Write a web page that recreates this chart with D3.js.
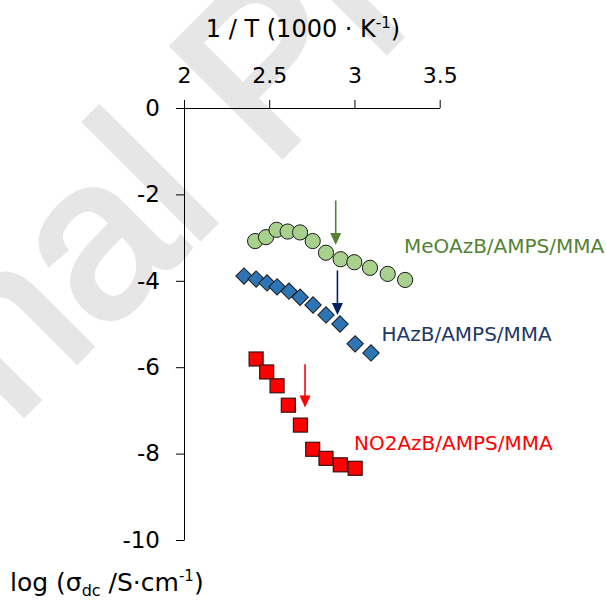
<!DOCTYPE html>
<html>
<head>
<meta charset="utf-8">
<script src="https://cdn.jsdelivr.net/npm/d3@7"></script>
<style>
  body { margin: 0; background: #fff; }
  svg { display: block; }
</style>
</head>
<body>
<script>
// Conductividad dc vs 1/T para los tres copolímeros azobenceno/AMPS/MMA
const meoX = [2.417, 2.481, 2.543, 2.608, 2.681, 2.755, 2.833, 2.919, 2.999, 3.091, 3.195, 3.297];
const meoY = [-3.08, -2.99, -2.82, -2.86, -2.88, -3.08, -3.35, -3.50, -3.57, -3.70, -3.84, -3.98];

const hX = [2.352, 2.423, 2.487, 2.546, 2.616, 2.681, 2.757, 2.833, 2.915, 3.004, 3.097];
const hY = [-3.89, -3.96, -4.05, -4.14, -4.24, -4.38, -4.56, -4.79, -5.00, -5.46, -5.67];

const no2X = [2.423, 2.485, 2.546, 2.612, 2.683, 2.755, 2.833, 2.917, 3.004];
const no2Y = [-5.81, -6.11, -6.43, -6.88, -7.34, -7.90, -8.11, -8.26, -8.34];

// flechas (transición): x, y inicio, y final
const arrowX  = [2.89, 2.90, 2.71];
const arrowY0 = [-2.14, -3.76, -5.93];
const arrowY1 = [-3.17, -4.79, -6.93];

const seriesNames = ["MeOAzB/AMPS/MMA", "HAzB/AMPS/MMA", "NO2AzB/AMPS/MMA"];
const xTicks = [2, 2.5, 3, 3.5];
const yTicks = [0, -2, -4, -6, -8, -10];

const width = 606, height = 603;
const font = "'DejaVu Sans', Verdana, sans-serif";

const svg = d3.select("body").append("svg")
  .attr("width", width).attr("height", height)
  .style("font-family", font);

// marca de agua "Journal Pre-proof" (la "l" queda junto al -2)
const wm = svg.append("g").attr("transform", "translate(190,248) rotate(-45)");
const wmText = wm.append("text")
  .attr("font-family", "'Liberation Sans', Arial, sans-serif")
  .attr("font-size", 225)
  .attr("fill", "#e6e6e6")
  .attr("stroke", "#e6e6e6").attr("stroke-width", 6)
  .text("Journal Pre-proof");
const offs = wmText.node().getSubStringLength(0, 6);
wmText.attr("x", -offs);

const x = d3.scaleLinear().domain([2, 3.5]).range([184, 439.7]);
const y = d3.scaleLinear().domain([0, -10]).range([108, 540]);

// Ejes
const fmt = d => String(d);
const xAxis = svg.append("g").attr("transform", `translate(0,${y(0)})`)
  .call(d3.axisTop(x).tickValues(xTicks).tickFormat(fmt).tickSize(8).tickSizeOuter(0).tickPadding(17));
const yAxis = svg.append("g").attr("transform", `translate(${x(2)},0)`)
  .call(d3.axisLeft(y).tickValues(yTicks).tickFormat(fmt).tickSize(8).tickSizeOuter(0).tickPadding(16));
for (const ax of [xAxis, yAxis]) {
  ax.select(".domain").attr("stroke", "#000").attr("stroke-width", 1);
  ax.selectAll(".tick line").attr("stroke", "#000");
  ax.selectAll(".tick text").attr("fill", "#000").style("font-family", font);
}
xAxis.selectAll(".tick text").attr("font-size", 22);
yAxis.selectAll(".tick text").attr("font-size", 23);

// Títulos de ejes
const xt = svg.append("text").attr("x", 303).attr("y", 37)
  .attr("text-anchor", "middle").attr("font-size", 24).attr("fill", "#000");
xt.append("tspan").text("1 / T (1000 · K");
xt.append("tspan").attr("font-size", 15).attr("dy", -9).text("-1");
xt.append("tspan").attr("dy", 9).text(")");

const yt = svg.append("text").attr("x", 10).attr("y", 591)
  .attr("font-size", 25).attr("fill", "#000");
yt.append("tspan").text("log (σ");
yt.append("tspan").attr("font-size", 16).attr("dy", 5).text("dc");
yt.append("tspan").attr("dy", -5).text(" /S·cm");
yt.append("tspan").attr("font-size", 15).attr("dy", -10).text("-1");
yt.append("tspan").attr("dy", 10).text(")");

// Flechas
const arrowCol = ["#548235", "#002060", "#ff0000"];
arrowX.forEach((ax, i) => {
  const px = x(ax), p0 = y(arrowY0[i]), p1 = y(arrowY1[i]);
  svg.append("line").attr("x1", px).attr("x2", px).attr("y1", p0).attr("y2", p1 - 10)
    .attr("stroke", arrowCol[i]).attr("stroke-width", 1.6);
  svg.append("path")
    .attr("d", `M${px - 5.5},${p1 - 12}L${px + 5.5},${p1 - 12}L${px},${p1}Z`)
    .attr("fill", arrowCol[i]);
});

// MeOAzB: círculos verdes
svg.append("g").selectAll("circle").data(d3.zip(meoX, meoY)).join("circle")
  .attr("cx", d => x(d[0])).attr("cy", d => y(d[1])).attr("r", 7.6)
  .attr("fill", "#a9d18e").attr("stroke", "#1a1a1a").attr("stroke-width", 1);

// HAzB: rombos azules
svg.append("g").selectAll("path").data(d3.zip(hX, hY)).join("path")
  .attr("transform", d => `translate(${x(d[0])},${y(d[1])}) rotate(45)`)
  .attr("d", "M-5.8,-5.8H5.8V5.8H-5.8Z")
  .attr("fill", "#2e75b6").attr("stroke", "#1a1a1a").attr("stroke-width", 1);

// NO2AzB: cuadrados rojos
svg.append("g").selectAll("rect").data(d3.zip(no2X, no2Y)).join("rect")
  .attr("x", d => x(d[0]) - 7).attr("y", d => y(d[1]) - 7)
  .attr("width", 14).attr("height", 14)
  .attr("fill", "#ff0000").attr("stroke", "#3a1010").attr("stroke-width", 1.2);

// Etiquetas de serie
const labelPos = [[404, 253], [381.5, 341], [354, 450]];
const labelCol = ["#548235", "#1f3864", "#ff0000"];
seriesNames.forEach((s, i) => {
  svg.append("text").attr("x", labelPos[i][0]).attr("y", labelPos[i][1])
    .attr("font-size", 20).attr("fill", labelCol[i]).text(s);
});
</script>
</body>
</html>
